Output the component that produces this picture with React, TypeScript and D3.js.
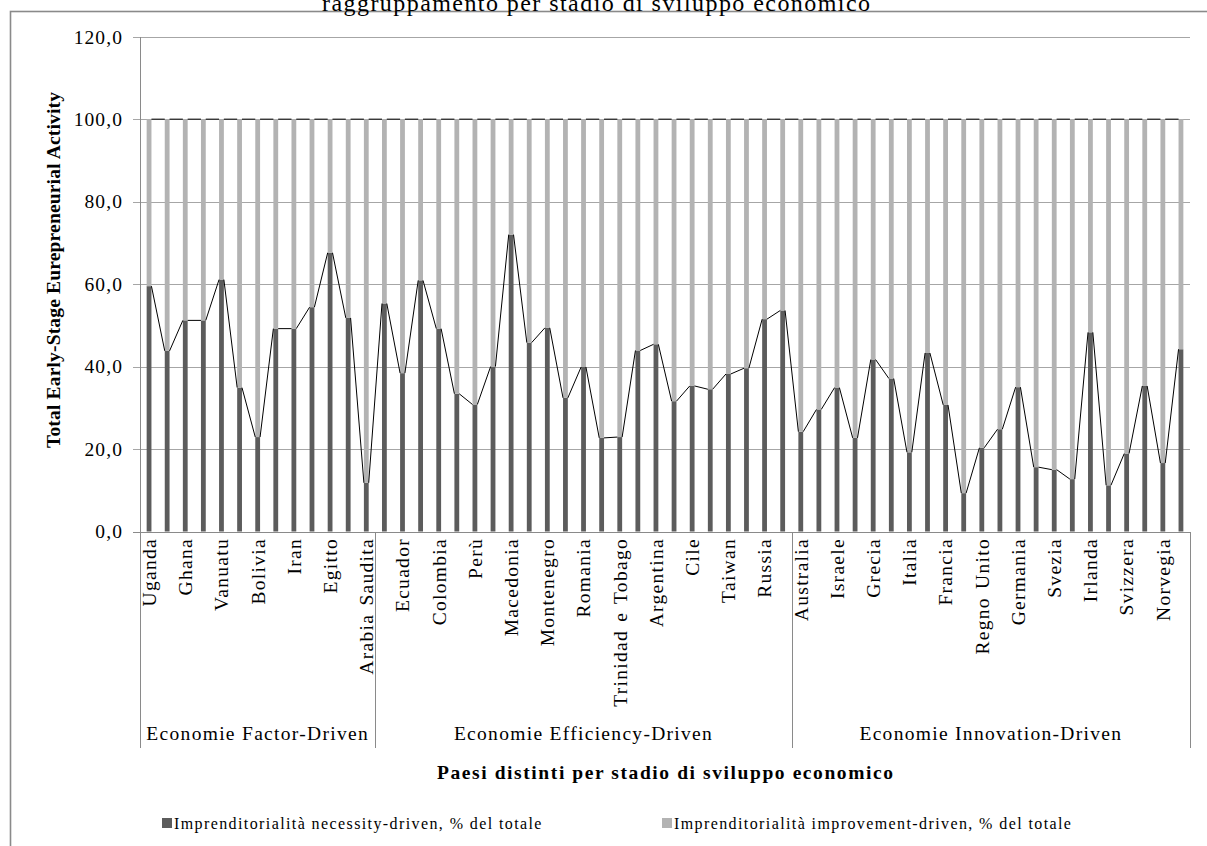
import React from "react";
import * as d3 from "d3";

// Countries in chart order (Excel shows every other label on the category axis)
const countries = [
  "Uganda", "Zambia", "Ghana", "Pakistan", "Vanuatu", "Cisgiordania e Gaza", "Bolivia",
  "Guatemala", "Iran", "Giamaica", "Egitto", "Angola", "Arabia Saudita",
  "Cina", "Ecuador", "Tunisia", "Colombia", "Bosnia Erzegovina", "Perù", "Sudafrica",
  "Macedonia", "Brasile", "Montenegro", "Costa Rica", "Romania", "Malesia",
  "Trinidad e Tobago", "Messico", "Argentina", "Uruguay", "Cile", "Turchia", "Taiwan",
  "Lettonia", "Russia", "Croazia",
  "Australia", "Corea", "Israele", "Slovenia", "Grecia", "Portogallo", "Italia", "Spagna",
  "Francia", "Giappone", "Regno Unito", "Belgio", "Germania", "Finlandia", "Svezia",
  "Islanda", "Irlanda", "Danimarca", "Svizzera", "Paesi Bassi", "Norvegia", "Stati Uniti",
];

const stages = ["Economie Factor-Driven", "Economie Efficiency-Driven", "Economie Innovation-Driven"];
const stageSizes = [13, 23, 22];

// Necessity-driven share of early-stage activity (%)
const necessity = [
  59.5, 43.8, 51.2, 51.2, 61.1, 34.9, 22.9, 49.2, 49.2, 54.4, 67.6, 51.8, 11.8,
  55.3, 38.4, 60.9, 49.2, 33.4, 30.8, 40.0, 72.0, 45.8, 49.4, 32.4, 39.9, 22.7,
  22.9, 43.9, 45.4, 31.6, 35.3, 34.5, 38.2, 39.6, 51.5, 53.6,
  24.2, 29.6, 34.9, 22.7, 41.7, 37.1, 19.2, 43.3, 30.7, 9.3, 20.3, 24.8, 35.0,
  15.6, 15.0, 12.7, 48.3, 11.2, 18.9, 35.3, 16.6, 44.2,
];

// Improvement-driven share of early-stage activity (%)
const improvement = [
  40.5, 56.2, 48.8, 48.8, 38.9, 65.1, 77.1, 50.8, 50.8, 45.6, 32.4, 48.2, 88.2,
  44.7, 61.6, 39.1, 50.8, 66.6, 69.2, 60.0, 28.0, 54.2, 50.6, 67.6, 60.1, 77.3,
  77.1, 56.1, 54.6, 68.4, 64.7, 65.5, 61.8, 60.4, 48.5, 46.4,
  75.8, 70.4, 65.1, 77.3, 58.3, 62.9, 80.8, 56.7, 69.3, 90.7, 79.7, 75.2, 65.0,
  84.4, 85.0, 87.3, 51.7, 88.8, 81.1, 64.7, 83.4, 55.8,
];

const yTicks = [0, 20, 40, 60, 80, 100, 120];

const seriesNames = [
  "Imprenditorialità necessity-driven, % del totale",
  "Imprenditorialità improvement-driven, % del totale",
];
const seriesColors = ["#5c5c5c", "#b3b3b3"];

const titleText = "raggruppamento per stadio di sviluppo economico";
const yTitle = "Total Early-Stage Eurepreneurial Activity";
const xTitle = "Paesi distinti per stadio di sviluppo economico";

const W = 1207;
const H = 846;
const FONT = '"Liberation Serif", "Times New Roman", Times, "DejaVu Serif", serif';

export default function App() {
  const x = d3.scaleBand<string>().domain(countries).range([140, 1190]).paddingInner(0).paddingOuter(0);
  const y = d3.scaleLinear().domain([0, 120]).range([531.5, 36.7]);
  const band = x.bandwidth();
  const barW = 4.8;

  const rows = countries.map((c, i) => ({ country: c, nec: necessity[i], imp: improvement[i] }));
  const stacked = d3.stack<any>().keys(["nec", "imp"])(rows);

  const cx = (c: string) => (x(c) as number) + band / 2;
  const fmt = (v: number) => d3.format(".1f")(v).replace(".", ",");

  // boundaries between the development stages
  const bounds: number[] = [0];
  stageSizes.forEach((s) => bounds.push(bounds[bounds.length - 1] + s));
  const boundX = (k: number) => x.range()[0] + k * band;

  const axisBottom = 748;
  const txt = { fontFamily: FONT };

  return (
    <div style={{ position: "absolute", left: 0, top: 0 }}>
      <svg width={W} height={H} style={{ display: "block", background: "#fff", fontFamily: FONT }}>
        <rect x={0} y={0} width={W} height={H} fill="#fff" />
        {/* chart area border */}
        <rect x={10.5} y={11.5} width={1300} height={1000} fill="none" stroke="#8a8a8a" strokeWidth={1.6} />

        <text x={596} y={10.5} fontSize={24} textAnchor="middle" fill="#000" style={txt}
          textLength={548} lengthAdjust="spacing">
          {titleText}
        </text>

        {/* horizontal gridlines with outside tick marks */}
        {yTicks.map((t) => (
          <line key={"g" + t} x1={133} x2={1190} y1={Math.round(y(t)) + 0.5} y2={Math.round(y(t)) + 0.5}
            stroke={t === 0 ? "#8a8a8a" : "#a6a6a6"} strokeWidth={1} shapeRendering="crispEdges" />
        ))}
        {yTicks.map((t) => (
          <text key={"t" + t} x={123} y={y(t)} dy="0.35em" fontSize={19.5} letterSpacing={1.1}
            textAnchor="end" fill="#000" style={txt}>
            {fmt(t)}
          </text>
        ))}

        {/* stacked columns */}
        {stacked.map((layer, li) => (
          <g key={"s" + li} fill={seriesColors[li]}>
            {layer.map((d, i) => (
              <rect key={i} x={cx(countries[i]) - barW / 2} y={y(d[1])} width={barW}
                height={y(d[0]) - y(d[1])} />
            ))}
          </g>
        ))}

        {/* series lines joining the tops of each series */}
        {stacked.map((layer, li) => (
          <g key={"l" + li} stroke="#000" strokeWidth={1} fill="none">
            {layer.slice(0, -1).map((d, i) => (
              <line key={i}
                x1={cx(countries[i]) + barW / 2} y1={y(d[1])}
                x2={cx(countries[i + 1]) - barW / 2} y2={y(layer[i + 1][1])} />
            ))}
          </g>
        ))}

        {/* value axis line and stage separators */}
        <line x1={140.5} x2={140.5} y1={y(120)} y2={axisBottom} stroke="#8a8a8a" strokeWidth={1} shapeRendering="crispEdges" />
        {bounds.slice(1).map((k) => (
          <line key={"b" + k} x1={Math.round(boundX(k)) + 0.5} x2={Math.round(boundX(k)) + 0.5}
            y1={y(0)} y2={axisBottom} stroke="#8a8a8a" strokeWidth={1} shapeRendering="crispEdges" />
        ))}

        {/* country labels, every other category */}
        {countries.map((c, i) =>
          i % 2 === 0 ? (
            <text key={"c" + i} transform={`translate(${cx(c)},538) rotate(-90)`} dy="0.35em"
              textAnchor="end" fontSize={19.5} letterSpacing={1.3} wordSpacing={2} fill="#000" style={txt}>
              {c}
            </text>
          ) : null
        )}

        {/* stage labels */}
        {stages.map((s, k) => (
          <text key={"st" + k} x={(boundX(bounds[k]) + boundX(bounds[k + 1])) / 2} y={739.5}
            textAnchor="middle" fontSize={19.5} letterSpacing={1.3} fill="#000" style={txt}>
            {s}
          </text>
        ))}

        {/* axis titles */}
        <text x={665} y={779} textAnchor="middle" fontSize={19.5} fontWeight="bold" fill="#000" style={txt}
          textLength={456} lengthAdjust="spacing">
          {xTitle}
        </text>
        <text transform="translate(53,270) rotate(-90)" dy="0.35em" textAnchor="middle" fontSize={19.5}
          fontWeight="bold" fill="#000" style={txt} textLength={356} lengthAdjust="spacing">
          {yTitle}
        </text>

        {/* legend */}
        {seriesNames.map((n, i) => {
          const lx = i === 0 ? 162 : 662;
          return (
            <g key={"lg" + i}>
              <rect x={lx} y={818} width={10} height={10} fill={seriesColors[i]} />
              <text x={lx + 12} y={828.5} fontSize={16} letterSpacing={1.4} fill="#000" style={txt}>
                {n}
              </text>
            </g>
          );
        })}
      </svg>
    </div>
  );
}
